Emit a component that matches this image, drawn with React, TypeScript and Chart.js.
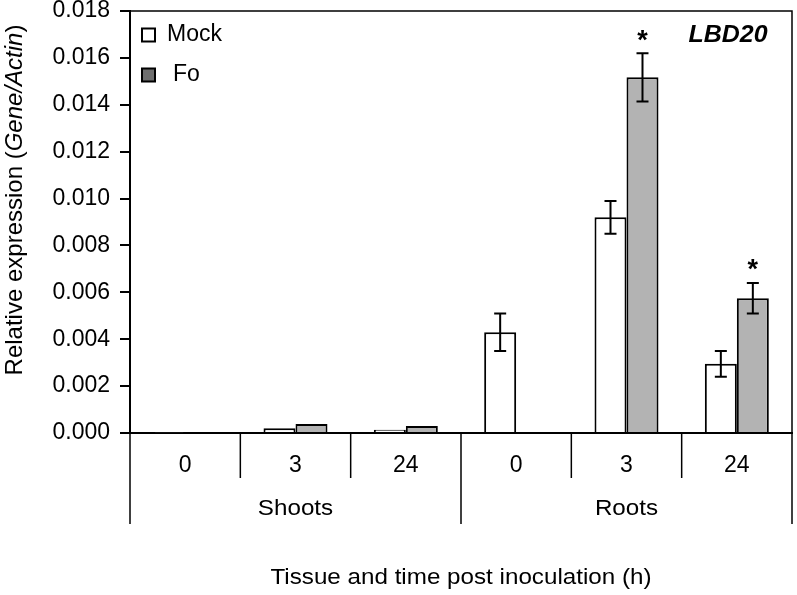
import React, { useEffect, useRef } from "react";
import { Chart, registerables } from "chart.js";

Chart.register(...registerables);

const timeLabels = ["0", "3", "24", "0", "3", "24"];
const tissueGroups = ["Shoots", "Roots"];
const mockValues = [0.00003, 0.0002, 0.00014, 0.0043, 0.0092, 0.00295];
const foValues: (number | null)[] = [null, 0.00038, 0.0003, null, 0.01517, 0.00575];
const mockErrors = [0, 0, 0, 0.0008, 0.0007, 0.00055];
const foErrors = [0, 0, 0, 0, 0.00103, 0.00065];
const foStars = [false, false, false, false, true, true];
const seriesNames = ["Mock", "Fo"];
const geneName = "LBD20";
const xTitle = "Tissue and time post inoculation (h)";

const FONT = "'Liberation Sans', Arial, sans-serif";
const PLOT_TOP = 11;

function stretchedText(
  ctx: CanvasRenderingContext2D,
  text: string,
  x: number,
  y: number,
  font: string,
  sx: number,
  align: CanvasTextAlign = "center"
) {
  ctx.save();
  ctx.font = font;
  ctx.textAlign = align;
  ctx.textBaseline = "middle";
  ctx.translate(x, y);
  ctx.scale(sx, 1);
  ctx.fillText(text, 0, 0);
  ctx.restore();
}

const overlayPlugin = {
  id: "overlay",
  afterDatasetsDraw(chart: any) {
    const ctx = chart.ctx as CanvasRenderingContext2D;
    const { left, right, top, bottom } = chart.chartArea;
    const xScale = chart.scales.x;
    const yScale = chart.scales.y;
    ctx.save();

    // error bars and stars
    const errs = [mockErrors, foErrors];
    const vals = [mockValues, foValues];
    for (let d = 0; d < 2; d++) {
      const meta = chart.getDatasetMeta(d);
      meta.data.forEach((bar: any, i: number) => {
        const v = vals[d][i];
        const e = errs[d][i];
        if (v == null) return;
        const x = bar.x;
        if (e > 0) {
          const yHi = yScale.getPixelForValue(v + e);
          const yLo = yScale.getPixelForValue(v - e);
          ctx.strokeStyle = "#000";
          ctx.lineWidth = 2;
          ctx.beginPath();
          ctx.moveTo(x, yHi);
          ctx.lineTo(x, yLo);
          ctx.moveTo(x - 6, yHi);
          ctx.lineTo(x + 6, yHi);
          ctx.moveTo(x - 6, yLo);
          ctx.lineTo(x + 6, yLo);
          ctx.stroke();
          if (d === 1 && foStars[i]) {
            ctx.fillStyle = "#000";
            ctx.font = `bold 27px ${FONT}`;
            ctx.textAlign = "center";
            ctx.textBaseline = "middle";
            ctx.fillText("*", x, yHi - 12);
          }
        }
      });
    }

    // frame top & right
    ctx.strokeStyle = "#000";
    ctx.lineWidth = 1.5;
    ctx.beginPath();
    ctx.moveTo(left, top);
    ctx.lineTo(right, top);
    ctx.lineTo(right, bottom);
    ctx.stroke();

    // category separators
    const n = timeLabels.length;
    const bounds: number[] = [];
    for (let i = 0; i <= n; i++) {
      let bx: number;
      if (i === 0) bx = left;
      else if (i === n) bx = right;
      else bx = (xScale.getPixelForValue(i - 1) + xScale.getPixelForValue(i)) / 2;
      bounds.push(bx);
    }
    ctx.lineWidth = 1.5;
    bounds.forEach((bx, i) => {
      const isGroup = i % 3 === 0;
      ctx.beginPath();
      ctx.moveTo(bx, bottom);
      ctx.lineTo(bx, isGroup ? bottom + 91 : bottom + 45);
      ctx.stroke();
    });

    // group labels
    ctx.fillStyle = "#000";
    tissueGroups.forEach((g, gi) => {
      const cx = (bounds[gi * 3] + bounds[gi * 3 + 3]) / 2;
      stretchedText(ctx, g, cx, bottom + 76, `22px ${FONT}`, 1.1);
    });

    // x title
    stretchedText(ctx, xTitle, (left + right) / 2, 578, `22px ${FONT}`, 1.1);

    // y title (mixed italic)
    const parts: [string, boolean][] = [
      ["Relative expression (", false],
      ["Gene/Actin", true],
      [")", false],
    ];
    ctx.save();
    ctx.translate(22, 200);
    ctx.rotate(-Math.PI / 2);
    ctx.textBaseline = "alphabetic";
    let total = 0;
    parts.forEach(([t, it]) => {
      ctx.font = `${it ? "italic " : ""}24px ${FONT}`;
      total += ctx.measureText(t).width;
    });
    let px = -total / 2;
    ctx.textAlign = "left";
    parts.forEach(([t, it]) => {
      ctx.font = `${it ? "italic " : ""}24px ${FONT}`;
      ctx.fillText(t, px, 0);
      px += ctx.measureText(t).width;
    });
    ctx.restore();

    // gene name
    stretchedText(ctx, geneName, 728, 35, `italic bold 24px ${FONT}`, 1.04);

    // legend
    const legendFill = ["#ffffff", "#6e6e6e"];
    const legendY = [35, 75];
    const legendTextX = [167, 173];
    seriesNames.forEach((s, i) => {
      ctx.fillStyle = legendFill[i];
      ctx.fillRect(142, legendY[i] - 6.5, 13, 13);
      ctx.strokeStyle = "#000";
      ctx.lineWidth = 2;
      ctx.strokeRect(142, legendY[i] - 6.5, 13, 13);
      ctx.fillStyle = "#000";
      stretchedText(ctx, s, legendTextX[i], legendY[i], `23px ${FONT}`, 1.0, "left");
    });

    ctx.restore();
  },
};

export default function App() {
  const ref = useRef<HTMLCanvasElement>(null);
  useEffect(() => {
    if (!ref.current) return;
    const chart = new Chart(ref.current, {
      type: "bar",
      data: {
        labels: timeLabels,
        datasets: [
          {
            label: seriesNames[0],
            data: mockValues,
            backgroundColor: "#ffffff",
            borderColor: "#000000",
            borderWidth: 2,
            categoryPercentage: 0.58,
            barPercentage: 1.0,
          },
          {
            label: seriesNames[1],
            data: foValues,
            backgroundColor: "#b3b3b3",
            borderColor: "#000000",
            borderWidth: 2,
            categoryPercentage: 0.58,
            barPercentage: 1.0,
          },
        ],
      },
      options: {
        responsive: false,
        animation: false,
        devicePixelRatio: 1,
        layout: { padding: { top: 0, right: 5, left: 0, bottom: 0 } },
        plugins: {
          legend: { display: false },
          tooltip: { enabled: false },
          title: { display: false },
        },
        scales: {
          x: {
            grid: { display: false },
            border: { display: true, color: "#000", width: 2 },
            ticks: {
              color: "#000",
              font: { family: FONT, size: 23 },
              padding: 11,
              maxRotation: 0,
            },
            afterFit(scale: any) {
              scale.height = 162;
            },
          },
          y: {
            min: 0,
            max: 0.018,
            grid: {
              drawOnChartArea: false,
              drawTicks: true,
              tickLength: 10,
              color: "#000",
              lineWidth: 2,
            },
            border: { display: true, color: "#000", width: 2 },
            ticks: {
              stepSize: 0.002,
              color: "#000",
              font: { family: FONT, size: 23, lineHeight: 0.96 },
              padding: 10,
              callback: (v: any) => Number(v).toFixed(3),
            },
            afterFit(scale: any) {
              scale.width = 130;
              scale.paddingTop = PLOT_TOP;
            },
          },
        },
      },
      plugins: [overlayPlugin],
    });
    return () => chart.destroy();
  }, []);
  return (
    <div style={{ position: "absolute", left: 0, top: 0, width: 797, height: 595 }}>
      <canvas ref={ref} width={797} height={595} style={{ display: "block" }} />
    </div>
  );
}
